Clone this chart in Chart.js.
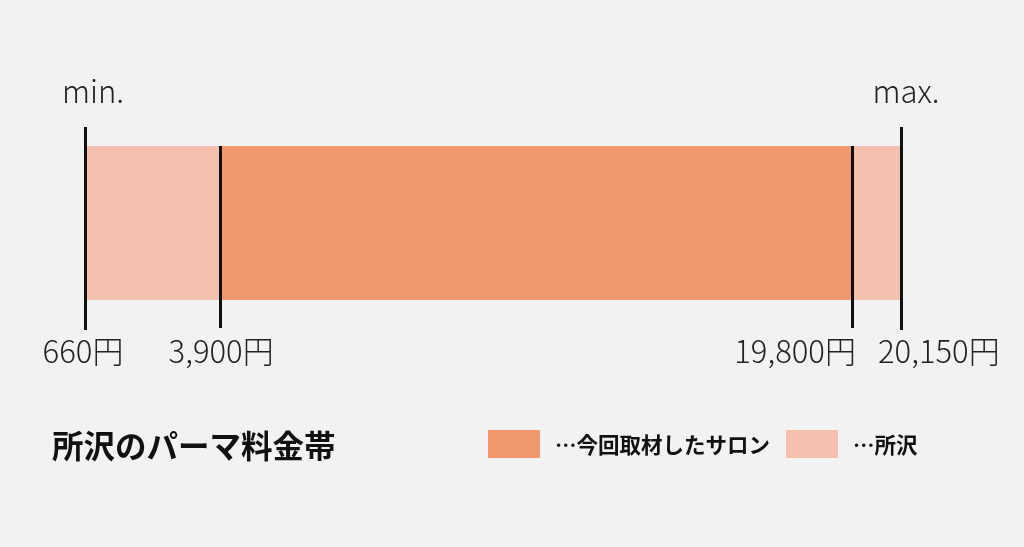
<!DOCTYPE html>
<html lang="ja">
<head>
<meta charset="utf-8">
<title>所沢のパーマ料金帯</title>
<script src="https://cdn.jsdelivr.net/npm/chart.js@4.4.1/dist/chart.umd.min.js"></script>
<style>
  html, body { margin: 0; padding: 0; background: #f2f2f2; }
  #wrap { width: 1024px; height: 547px; }
</style>
</head>
<body>
<div id="wrap"><canvas id="chart" width="1024" height="547"></canvas></div>
<script>
const title = '所沢のパーマ料金帯';
const categories = ['パーマ'];
const seriesNames = ['…今回取材したサロン', '…所沢'];
const salonRange = [3900, 19800];
const areaRange = [660, 20150];
const tickValues = [660, 3900, 19800, 20150];
const tickLabels = ['660円', '3,900円', '19,800円', '20,150円'];
const endLabels = ['min.', 'max.'];

const COLORS = {
  dark: '#f0996f',
  light: '#f5c1af',
  ink: '#111111',
  text: '#222222',
};
const FONT = "'Noto Sans CJK JP', 'Noto Sans', sans-serif";

// the picture is not to scale: the last segment is widened, so the axis is piecewise linear
class SegmentScale extends Chart.LinearScale {
  static id = 'segment';

  _toDecimal(value) {
    const stops = this.options.stops;
    const shares = this.options.shares;
    if (value <= stops[0]) return shares[0];
    for (let i = 1; i < stops.length; i++) {
      if (value <= stops[i]) {
        const t = (value - stops[i - 1]) / (stops[i] - stops[i - 1]);
        return shares[i - 1] + t * (shares[i] - shares[i - 1]);
      }
    }
    return shares[shares.length - 1];
  }

  getPixelForValue(value) {
    return this.getPixelForDecimal(this._toDecimal(value));
  }

  getValueForPixel(pixel) {
    const dec = this.getDecimalForPixel(pixel);
    const stops = this.options.stops;
    const shares = this.options.shares;
    for (let i = 1; i < shares.length; i++) {
      if (dec <= shares[i]) {
        const t = (dec - shares[i - 1]) / (shares[i] - shares[i - 1]);
        return stops[i - 1] + t * (stops[i] - stops[i - 1]);
      }
    }
    return stops[stops.length - 1];
  }
}
Chart.register(SegmentScale);

const rangeMarks = {
  id: 'rangeMarks',
  afterDatasetsDraw(chart) {
    const ctx = chart.ctx;
    const x = chart.scales.x;
    const area = chart.chartArea;
    const last = tickValues.length - 1;

    ctx.save();
    ctx.strokeStyle = COLORS.ink;
    ctx.lineWidth = 3;
    tickValues.forEach((v, i) => {
      const px = Math.round(x.getPixelForValue(v)) + 0.5;
      const isEnd = i === 0 || i === last;
      ctx.beginPath();
      ctx.moveTo(px, area.top - (isEnd ? 19 : 0));
      ctx.lineTo(px, area.bottom + (isEnd ? 30 : 28));
      ctx.stroke();
    });

    ctx.fillStyle = COLORS.text;
    ctx.font = '300 31px ' + FONT;
    ctx.textBaseline = 'alphabetic';
    const aligns = ['center', 'center', 'right', 'left'];
    const shifts = [-2, 1, 4, -23];
    tickLabels.forEach((label, i) => {
      ctx.textAlign = aligns[i];
      ctx.fillText(label, x.getPixelForValue(tickValues[i]) + shifts[i], area.bottom + 63);
    });

    ctx.textAlign = 'center';
    ctx.fillText(endLabels[0], x.getPixelForValue(tickValues[0]) + 8, area.top - 43);
    ctx.fillText(endLabels[1], x.getPixelForValue(tickValues[last]) + 5, area.top - 43);

    // title and legend on one row under the chart
    ctx.textAlign = 'left';
    ctx.textBaseline = 'middle';
    ctx.fillStyle = '#111111';
    ctx.font = 'bold 31.5px ' + FONT;
    ctx.fillText(title, 52, 446);

    const legendX = [488, 786];
    ctx.font = 'bold 21.5px ' + FONT;
    chart.data.datasets.forEach((ds, i) => {
      ctx.fillStyle = ds.backgroundColor;
      ctx.fillRect(legendX[i], 430, 52, 28);
      ctx.fillStyle = '#111111';
      ctx.fillText(ds.label, legendX[i] + 67, 445);
    });
    ctx.restore();
  },
};

const ctx = document.getElementById('chart').getContext('2d');

new Chart(ctx, {
  type: 'bar',
  data: {
    labels: categories,
    datasets: [
      {
        label: seriesNames[0],
        data: [salonRange],
        backgroundColor: COLORS.dark,
        grouped: false,
      },
      {
        label: seriesNames[1],
        data: [areaRange],
        backgroundColor: COLORS.light,
        grouped: false,
      },
    ],
  },
  options: {
    indexAxis: 'y',
    responsive: false,
    animation: false,
    events: [],
    barPercentage: 1,
    categoryPercentage: 1,
    layout: {
      padding: { left: 85, right: 123, top: 146, bottom: 247 },
    },
    scales: {
      x: {
        type: 'segment',
        min: tickValues[0],
        max: tickValues[tickValues.length - 1],
        stops: tickValues,
        shares: [0, 0.1656, 0.9399, 1],
        display: false,
      },
      y: {
        display: false,
      },
    },
    plugins: {
      legend: { display: false },
      title: { display: false },
      tooltip: { enabled: false },
    },
  },
  plugins: [rangeMarks],
});
</script>
</body>
</html>
